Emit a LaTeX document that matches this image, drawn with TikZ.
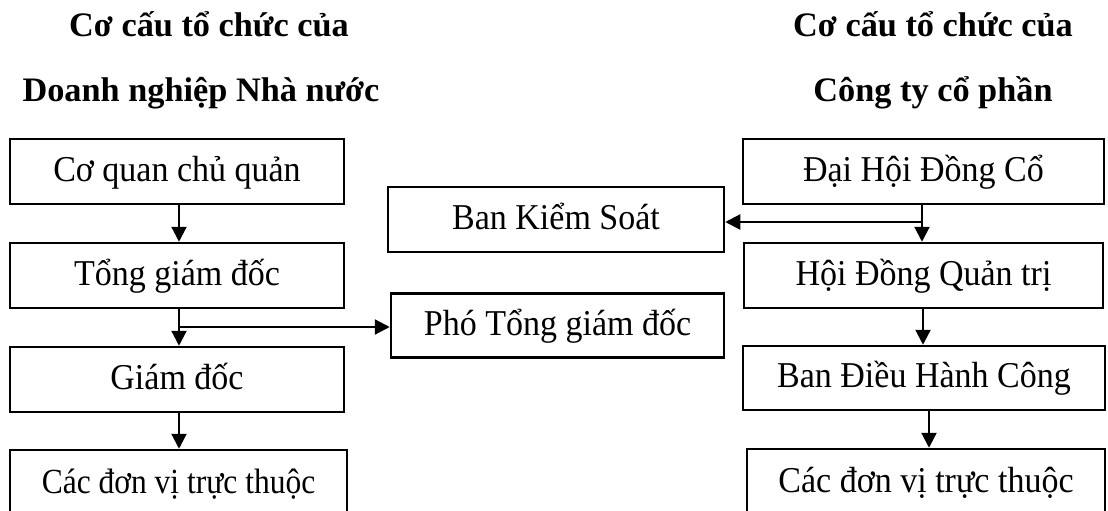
\documentclass[tikz,border=0pt]{standalone}
\usepackage{fontspec}
\setmainfont{Liberation Serif}
\usetikzlibrary{arrows.meta}
\newcommand{\vstr}[2][1.07]{\scalebox{1}[#1]{#2}}
\begin{document}
\begin{tikzpicture}[x=1pt,y=-1pt,
  box/.style={draw, line width=2.5pt, inner sep=0pt, minimum height=65pt,
    text height=26pt, text depth=7pt, font=\fontsize{34}{40}\selectfont},
  lowbox/.style={box, text height=28pt, text depth=6pt},
  title/.style={inner sep=0pt, anchor=base, font=\fontsize{34.3}{40}\selectfont\bfseries},
  arr/.style={line width=2.2pt, -{Triangle[width=15pt,length=15pt]}},
  conn/.style={line width=2.2pt}]
\clip (0,0) rectangle (1108,511);
\fill[white] (0,0) rectangle (1108,511);
% titles
\node[title] (tl1) at (209,37) {Cơ cấu tổ chức của};
\node[title] (tl2) at (201,101) {Doanh nghiệp Nhà nước};
\node[title] (tr1) at (933,37) {Cơ cấu tổ chức của};
\node[title] (tr2) at (933,101) {Công ty cổ phần};
% left column
\node[box, minimum width=334pt] (L1) at (177,171.5) {\vstr{Cơ quan chủ quản}};
\node[box, minimum width=334pt] (L2) at (177,275.5) {\vstr{Tổng giám đốc}};
\node[box, minimum width=334pt] (L3) at (177,379.5) {\vstr{Giám đốc}};
\node[lowbox, minimum width=337pt, font=\fontsize{31.5}{38}\selectfont] (L4) at (178.5,482.5) {\vstr[1.12]{Các đơn vị trực thuộc}};
% middle
\node[box, minimum width=336pt] (BKS) at (556,219.5) {\vstr{Ban Kiểm Soát}};
\node[box, minimum width=333pt, minimum height=64pt] (PT) at (557.5,325.5) {\vstr{Phó Tổng giám đốc}};
% right column
\node[box, minimum width=361pt] (R1) at (923.5,171.5) {\vstr{Đại Hội Đồng Cổ}};
\node[box, minimum width=359pt] (R2) at (923.5,275.5) {\vstr{Hội Đồng Quản trị}};
\node[box, minimum width=362pt, minimum height=64pt] (R3) at (924,378) {\vstr{Ban Điều Hành Công}};
\node[lowbox, minimum width=358pt] (R4) at (926,481.5) {\vstr{Các đơn vị trực thuộc}};
% connector columns
\coordinate (cl) at (179,0);
\coordinate (cr1) at (922,0);
\coordinate (cr2) at (923,0);
\coordinate (cr3) at (929,0);
\coordinate (bl) at (179,327);
\coordinate (br) at (922,222);
% left connectors
\draw[arr] (L1.south -| cl) -- (L2.north -| cl);
\draw[arr] (L2.south -| cl) -- (L3.north -| cl);
\draw[arr] (bl) -- (bl -| PT.west);
\draw[arr] (L3.south -| cl) -- (L4.north -| cl);
% right connectors
\draw[arr] (R1.south -| cr1) -- (R2.north -| cr1);
\draw[arr] (br) -- (br -| BKS.east);
\draw[arr] (R2.south -| cr2) -- (R3.north -| cr2);
\draw[arr] (R3.south -| cr3) -- (R4.north -| cr3);
\end{tikzpicture}
\end{document}
